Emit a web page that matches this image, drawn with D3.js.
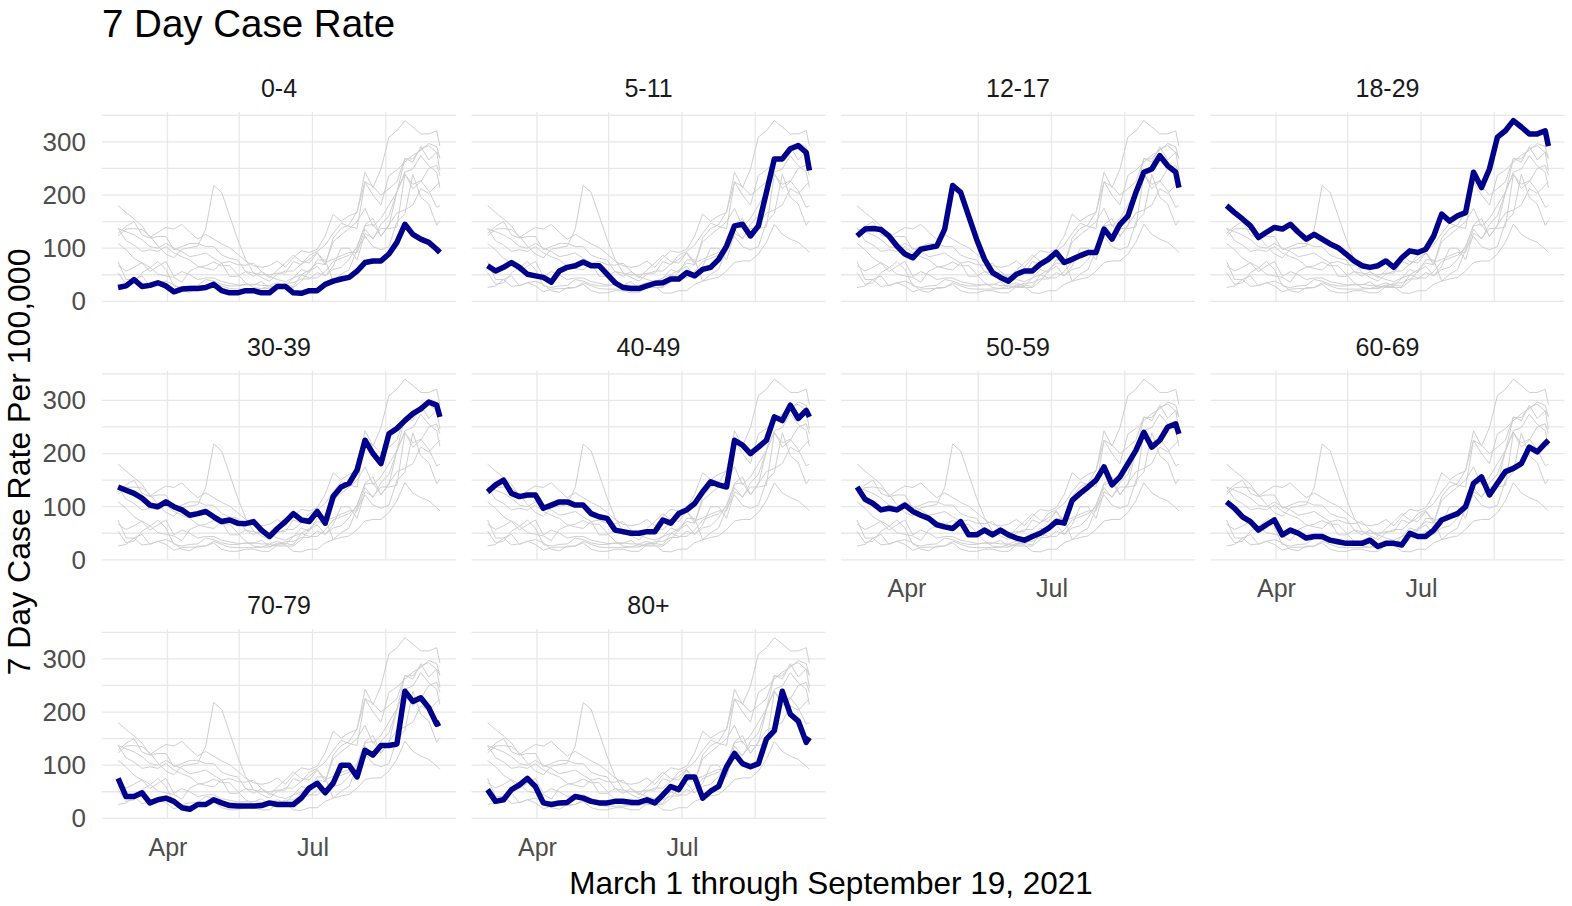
<!DOCTYPE html>
<html>
<head>
<meta charset="utf-8">
<script src="https://cdn.jsdelivr.net/npm/d3@7"></script>
<style>
  body { margin: 0; background: #fff; }
  text { font-family: "Liberation Sans", Arial, sans-serif; }
</style>
</head>
<body>
<div id="display"></div>
<script>
const dates = ["2021-03-01","2021-03-06","2021-03-11","2021-03-16","2021-03-21","2021-03-26","2021-03-31",
  "2021-04-05","2021-04-10","2021-04-15","2021-04-20","2021-04-25","2021-04-30","2021-05-05","2021-05-10",
  "2021-05-15","2021-05-20","2021-05-25","2021-05-30","2021-06-04","2021-06-09","2021-06-14","2021-06-19",
  "2021-06-24","2021-06-29","2021-07-04","2021-07-09","2021-07-14","2021-07-19","2021-07-24","2021-07-29",
  "2021-08-03","2021-08-08","2021-08-13","2021-08-18","2021-08-23","2021-08-28","2021-09-02","2021-09-07",
  "2021-09-12","2021-09-17","2021-09-19"]

const groups = ["0-4", "5-11", "12-17", "18-29", "30-39", "40-49", "50-59", "60-69", "70-79", "80+"]

const rate0to4 = [26,29,41,28,30,35,29,18,23,24,24,26,32,20,16,16,20,20,16,16,28,28,16,15,20,20,32,38,42,45,57,73,76,76,89,111,145,126,117,111,98,92]
const rate5to11 = [67,57,64,73,64,51,48,45,36,57,64,67,74,67,67,51,35,26,24,24,29,34,35,42,42,54,48,60,64,79,104,142,145,123,142,205,268,268,287,293,280,246]
const rate12to17 = [123,136,137,135,123,104,89,82,98,101,104,136,218,205,161,117,79,54,45,38,51,57,57,70,79,92,73,79,86,92,92,136,117,145,161,205,243,249,274,255,243,214]
const rate18to29 = [180,167,155,142,120,130,139,136,145,130,117,126,117,108,101,89,76,67,64,67,76,64,82,95,92,98,123,164,151,161,167,243,214,249,309,321,340,328,315,315,321,292]
const rate30to39 = [137,131,125,116,103,100,109,100,94,84,87,91,81,72,75,69,68,72,56,44,59,72,87,75,72,91,69,119,137,144,169,225,200,181,237,247,262,275,284,297,291,269]
const rate40to49 = [128,141,150,125,119,122,122,97,103,109,109,103,103,87,81,78,56,53,50,50,53,53,75,69,87,94,106,128,147,141,137,225,216,200,212,225,269,262,291,266,281,269]
const rate50to59 = [137,114,106,94,97,94,103,91,84,78,66,62,59,72,47,47,56,47,56,47,41,37,44,50,59,72,69,112,125,137,150,175,141,156,181,206,240,212,225,250,256,237]
const rate60to69 = [109,97,81,72,56,66,75,47,56,50,41,44,44,37,34,31,31,31,37,25,31,31,28,50,44,44,56,75,81,87,100,144,156,122,144,166,172,181,212,203,219,225]
const rate70to79 = [75,41,41,48,29,35,38,32,20,17,26,26,35,29,24,23,23,23,24,29,26,26,26,38,57,66,48,66,100,100,78,128,119,137,137,140,239,220,227,208,177,180]
const rate80plus = [54,32,35,54,63,75,60,29,26,29,30,41,38,32,29,29,32,32,30,30,35,29,44,60,54,78,78,38,51,60,97,122,103,97,103,149,165,239,196,183,143,152]

const rates = [rate0to4, rate5to11, rate12to17, rate18to29, rate30to39,
               rate40to49, rate50to59, rate60to69, rate70to79, rate80plus]

const yMajor = [0, 100, 200, 300]
const yMinor = [50, 150, 250, 350]
const xMajor = ["2021-04-01", "2021-07-01"]
const xMinor = ["2021-05-16", "2021-08-16"]

const width = 1572, height = 906
const panel = {left: 102, top: 112, w: 354, h: 190, dx: 369.5, dy: 258.5, cols: 4}

const parse = d3.timeParse("%Y-%m-%d")
const days = dates.map(parse)

const series = groups.map((g, i) => ({
    group: g,
    values: rates[i].map((v, j) => ({date: days[j], rate: v}))
}))

const svg = d3.select('#display').append("svg")
    .attr('width', width)
    .attr('height', height)

// ggplot style 5% expansion on both scales
const xExt = d3.extent(days)
const xPad = (xExt[1] - xExt[0]) * 0.05
const xScale = d3.scaleTime()
    .domain([new Date(+xExt[0] - xPad), new Date(+xExt[1] + xPad)])
    .range([0, panel.w])

const yExt = d3.extent(rates.flat())
const yPad = (yExt[1] - yExt[0]) * 0.05
const yScale = d3.scaleLinear()
    .domain([yExt[0] - yPad, yExt[1] + yPad])
    .range([panel.h, 0])

const line = d3.line()
    .x(d => xScale(d.date))
    .y(d => yScale(d.rate))

series.forEach((s, i) => {
    const col = i % panel.cols, row = Math.floor(i / panel.cols)
    const g = svg.append("g")
        .attr("transform", "translate(" + (panel.left + col * panel.dx) + "," + (panel.top + row * panel.dy) + ")")

    // grid
    g.selectAll(".hgrid").data(yMajor.concat(yMinor))
        .enter()
        .append("line")
            .attr("x1", 0).attr("x2", panel.w)
            .attr("y1", d => yScale(d)).attr("y2", d => yScale(d))
            .attr("stroke", "#e8e8e8")
            .attr("stroke-width", 1.3)
    g.selectAll(".vgrid").data(xMajor.concat(xMinor).map(parse))
        .enter()
        .append("line")
            .attr("x1", d => xScale(d)).attr("x2", d => xScale(d))
            .attr("y1", 0).attr("y2", panel.h)
            .attr("stroke", "#e8e8e8")
            .attr("stroke-width", 1.3)

    // all other groups in grey, this one on top in dark blue
    g.selectAll(".other").data(series.filter(o => o.group != s.group))
        .enter()
        .append("path")
            .attr("d", o => line(o.values))
            .attr("fill", "none")
            .attr("stroke", "#cfcfcf")
            .attr("stroke-width", 1)

    g.append("path")
        .datum(s.values)
        .attr("d", line)
        .attr("fill", "none")
        .attr("stroke", "#00008b")
        .attr("stroke-width", 5.5)
        .attr("stroke-linejoin", "round")

    g.append("text")
        .attr("x", panel.w / 2)
        .attr("y", -15)
        .attr("text-anchor", "middle")
        .style("font-size", "25px")
        .attr("fill", "#1a1a1a")
        .text(s.group)

    if (col == 0) {
        const ax = g.append("g")
            .call(d3.axisLeft(yScale).tickValues(yMajor).tickSize(0).tickPadding(16))
        ax.select(".domain").remove()
        ax.selectAll("text").style("font-size", "26px").attr("fill", "#4d4d4d")
    }

    // bottom axis on the lowest panel of each column
    if (i + panel.cols >= groups.length) {
        const ax = g.append("g")
            .attr("transform", "translate(0," + panel.h + ")")
            .call(d3.axisBottom(xScale).tickValues(xMajor.map(parse))
                .tickFormat(d3.timeFormat("%b")).tickSize(0).tickPadding(19))
        ax.select(".domain").remove()
        ax.selectAll("text").style("font-size", "25px").attr("fill", "#4d4d4d")
    }
})

svg.append("text")
    .attr("x", 102)
    .attr("y", 37)
    .style("font-size", "38.5px")
    .attr("fill", "#000")
    .text("7 Day Case Rate")

svg.append("text")
    .attr("transform", "translate(" + 831 + ",894)")
    .attr("text-anchor", "middle")
    .style("font-size", "31.5px")
    .attr("fill", "#000")
    .text("March 1 through September 19, 2021")

svg.append("text")
    .attr("transform", "translate(30,462) rotate(-90)")
    .attr("text-anchor", "middle")
    .style("font-size", "32px")
    .attr("fill", "#000")
    .text("7 Day Case Rate Per 100,000")
</script>
</body>
</html>
